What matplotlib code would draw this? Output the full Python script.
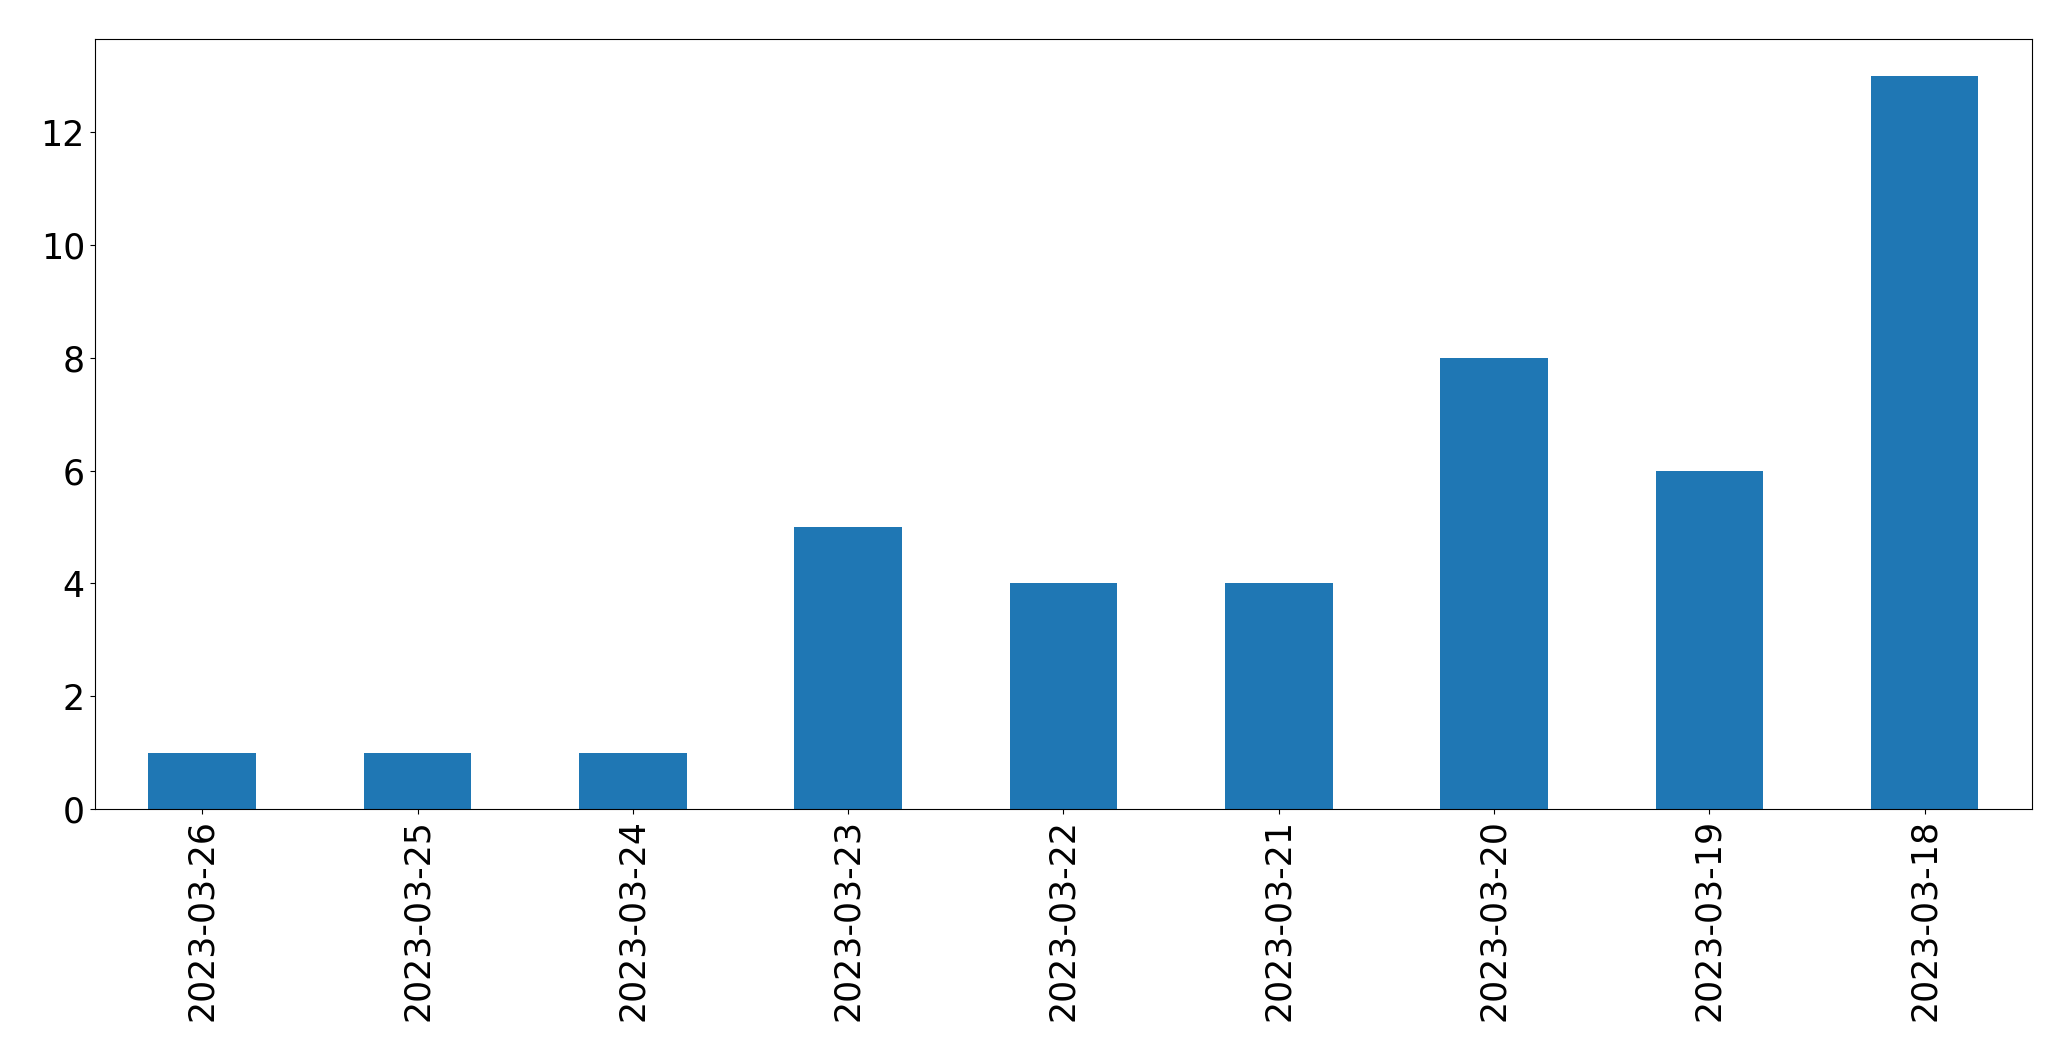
import matplotlib
matplotlib.use("Agg")
import matplotlib.pyplot as plt
import pandas as pd

dates = ["2023-03-26", "2023-03-25", "2023-03-24", "2023-03-23", "2023-03-22",
         "2023-03-21", "2023-03-20", "2023-03-19", "2023-03-18"]
counts = [1, 1, 1, 5, 4, 4, 8, 6, 13]

fig = plt.figure(figsize=(20.71, 10.61), dpi=100)
ax = fig.add_axes([0.0457, 0.2375, 0.9356, 0.7255])
s = pd.Series(counts, index=dates)
s.plot(kind="bar", ax=ax, color="#1f77b4", width=0.5)
ax.tick_params(axis="both", labelsize=25)
ax.set_xlabel("")
fig.savefig("out.png", dpi=100)
